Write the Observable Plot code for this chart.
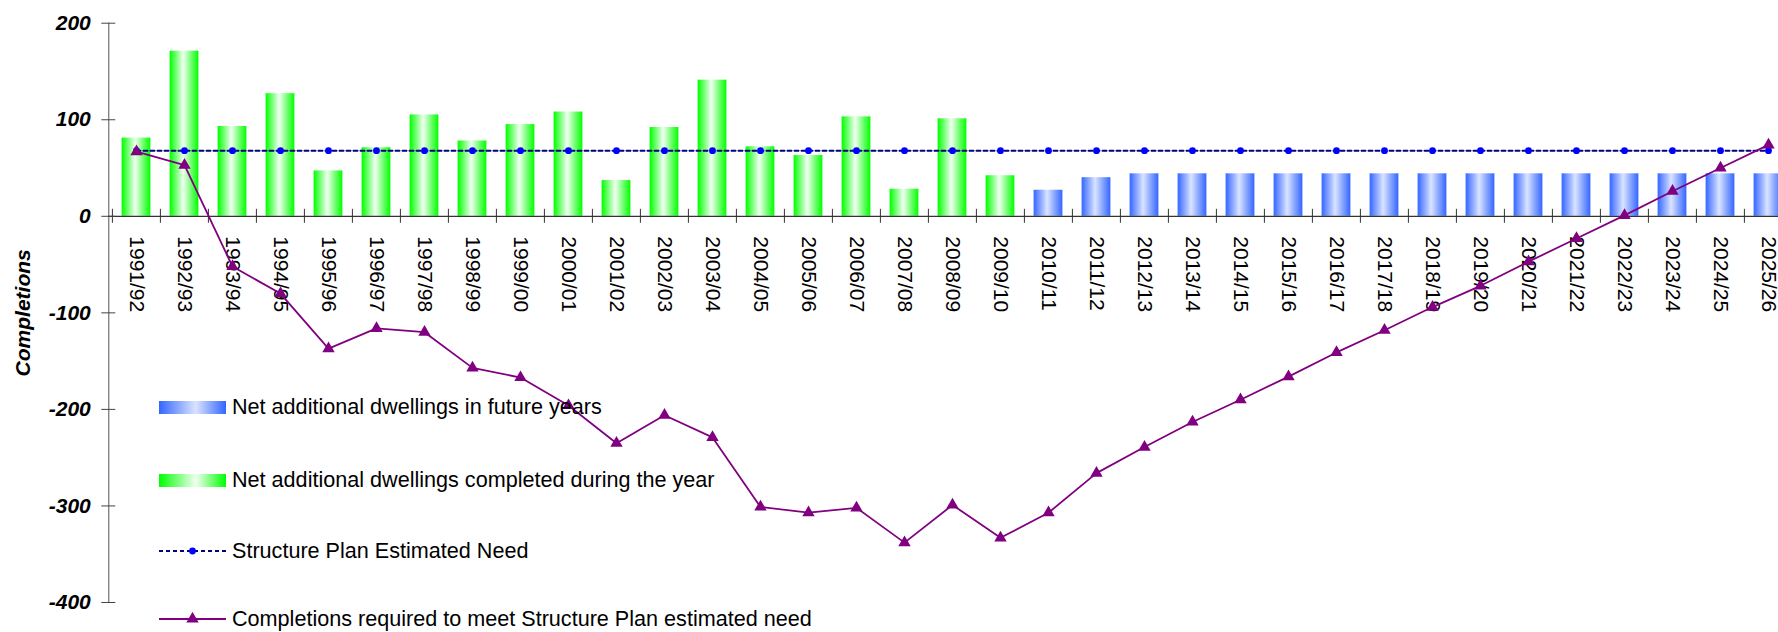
<!DOCTYPE html>
<html><head><meta charset="utf-8">
<script src="https://cdn.jsdelivr.net/npm/d3@7"></script>
<script src="https://cdn.jsdelivr.net/npm/@observablehq/plot@0.6"></script>
<style>
body{margin:0;overflow:hidden;background:#fff;font-family:"Liberation Sans",Arial,sans-serif;}
#wrap{position:relative;width:1778px;height:632px;overflow:hidden;}
.legend{position:absolute;left:159px;top:0;font-size:21.6px;color:#000;}
.row{position:absolute;left:0;display:flex;align-items:center;white-space:nowrap;height:26px;}
.row svg{margin-right:6px;display:block;}
</style></head><body><div id="wrap"></div>
<script>
// ---- data ----
const categories = ["1991/92","1992/93","1993/94","1994/95","1995/96","1996/97","1997/98","1998/99","1999/00","2000/01",
  "2001/02","2002/03","2003/04","2004/05","2005/06","2006/07","2007/08","2008/09","2009/10","2010/11",
  "2011/12","2012/13","2013/14","2014/15","2015/16","2016/17","2017/18","2018/19","2019/20","2020/21",
  "2021/22","2022/23","2023/24","2024/25","2025/26"];
const completedYears = categories.slice(0, 19);
const completed = [81,171,93,127,47,71,105,78,95,108,37,92,141,72,63,103,28,101,42];
const futureYears = categories.slice(19);
const future = [27,40,44,44,44,44,44,44,44,44,44,44,44,44,44,44];
const estimatedNeed = [68,68,68,68,68,68,68,68,68,68,68,68,68,68,68,68,68,68,68,68,68,68,68,68,68,68,68,68,68,68,68,68,68,68,68];
const required = [67,53,-52,-80,-137,-116,-120,-157,-167,-196,-235,-206,-229,-301,-307,-302,-338,-299,-333,-307,
  -266,-239,-213,-190,-166,-141,-118,-94,-72,-47,-23,1,26,50,74];
const yDomain = [-400, 200];
const yTicks = [-400,-300,-200,-100,0,100,200];
const legendLabels = ["Net additional dwellings in future years","Net additional dwellings completed during the year",
  "Structure Plan Estimated Need","Completions required to meet Structure Plan estimated need"];
const yLabel = "Completions";

// ---- layout ----
const W = 1778, H = 632, ML = 108.3, MR = -17.3, MT = 22.7, MB = 30;
const bw = (W - ML - MR) / categories.length;
const inset = 9.6;
const font = '"Liberation Sans", Arial, sans-serif';

const compData = completedYears.map((c, i) => ({c, v: completed[i]}));
const futData = futureYears.map((c, i) => ({c, v: future[i]}));
const needData = categories.map((c, i) => ({c, v: estimatedNeed[i]}));
const reqData = categories.map((c, i) => ({c, v: required[i]}));

const defs = () => {
  const d = document.createElementNS("http://www.w3.org/2000/svg", "defs");
  d.innerHTML = `
  <linearGradient id="gGreen" x1="0" x2="1" y1="0" y2="0">
    <stop offset="0" stop-color="#00ff00"/><stop offset="0.47" stop-color="#f0fff0"/><stop offset="1" stop-color="#00ff00"/>
  </linearGradient>
  <linearGradient id="gBlue" x1="0" x2="1" y1="0" y2="0">
    <stop offset="0" stop-color="#3366ff"/><stop offset="0.47" stop-color="#dae3ff"/><stop offset="1" stop-color="#3366ff"/>
  </linearGradient>`;
  return d;
};

const chart = Plot.plot({
  width: W, height: H,
  marginLeft: ML, marginRight: MR, marginTop: MT, marginBottom: MB,
  style: {fontFamily: font, background: "white", overflow: "hidden"},
  x: {type: "band", domain: categories, padding: 0, axis: null},
  y: {domain: yDomain, axis: null},
  marks: [
    defs,
    Plot.barY(compData, {x: "c", y: "v", fill: "url(#gGreen)", insetLeft: inset, insetRight: inset}),
    Plot.barY(futData, {x: "c", y: "v", fill: "url(#gBlue)", insetLeft: inset, insetRight: inset}),
    Plot.frame({anchor: "left", stroke: "#555"}),
    Plot.ruleY([0], {stroke: "#000"}),
    Plot.ruleX(categories, {x: d => d, dx: -bw / 2, y1: 0, y2: 0, insetTop: -7, insetBottom: -7, stroke: "#333"}),
    Plot.axisY(yTicks, {tickSize: 14, dx: 7, tickPadding: 11, tickFormat: d => String(d),
      fontSize: 21, fontWeight: "bold", fontStyle: "italic", label: null, stroke: "#444"}),
    Plot.text([yLabel], {frameAnchor: "left", y: () => (yDomain[0] + yDomain[1]) / 2, dx: 23 - ML, rotate: -90,
      textAnchor: "middle", lineAnchor: "middle", fontSize: 21, fontWeight: "bold", fontStyle: "italic", fill: "#000"}),
    Plot.text(categories, {x: d => d, y: 0, rotate: 90, textAnchor: "start", lineAnchor: "middle", dy: 20, fontSize: 21, fill: "#000"}),
    Plot.line(needData, {x: "c", y: "v", stroke: "#000080", strokeWidth: 2, strokeDasharray: "4,3"}),
    Plot.dot(needData, {x: "c", y: "v", r: 3.4, fill: "#0000ff", stroke: "none"}),
    Plot.line(reqData, {x: "c", y: "v", stroke: "#800080", strokeWidth: 1.8}),
    Plot.dot(reqData, {x: "c", y: "v", symbol: "triangle", r: 4.6, fill: "#800080", stroke: "none"})
  ]
});

const wrap = document.getElementById("wrap");
wrap.appendChild(chart);

// ---- legend (overlaid HTML) ----
const legend = document.createElement("div");
legend.className = "legend";
const rowCenters = [407, 480, 551, 619];
const swatches = [
  `<svg width="67" height="13"><defs><linearGradient id="lb" x1="0" x2="1"><stop offset="0" stop-color="#3366ff"/><stop offset="0.55" stop-color="#dae3ff"/><stop offset="1" stop-color="#3366ff"/></linearGradient></defs><rect width="67" height="13" fill="url(#lb)"/></svg>`,
  `<svg width="67" height="13"><defs><linearGradient id="lg" x1="0" x2="1"><stop offset="0" stop-color="#00ff00"/><stop offset="0.55" stop-color="#f0fff0"/><stop offset="1" stop-color="#00ff00"/></linearGradient></defs><rect width="67" height="13" fill="url(#lg)"/></svg>`,
  `<svg width="67" height="12"><line x1="0" x2="67" y1="6" y2="6" stroke="#000080" stroke-width="2" stroke-dasharray="4,3"/><circle cx="33.5" cy="6" r="3.4" fill="#0000ff"/></svg>`,
  `<svg width="67" height="14"><line x1="0" x2="67" y1="7" y2="7" stroke="#800080" stroke-width="1.8"/><path transform="translate(33.5,7)" d="${d3.symbol(d3.symbolTriangle, Math.PI*4.6*4.6)()}" fill="#800080"/></svg>`
];
legendLabels.forEach((lab, i) => {
  const row = document.createElement("div");
  row.className = "row";
  row.style.top = (rowCenters[i] - 13) + "px";
  row.innerHTML = swatches[i] + `<span>${lab}</span>`;
  legend.appendChild(row);
});
wrap.appendChild(legend);
</script></body></html>
